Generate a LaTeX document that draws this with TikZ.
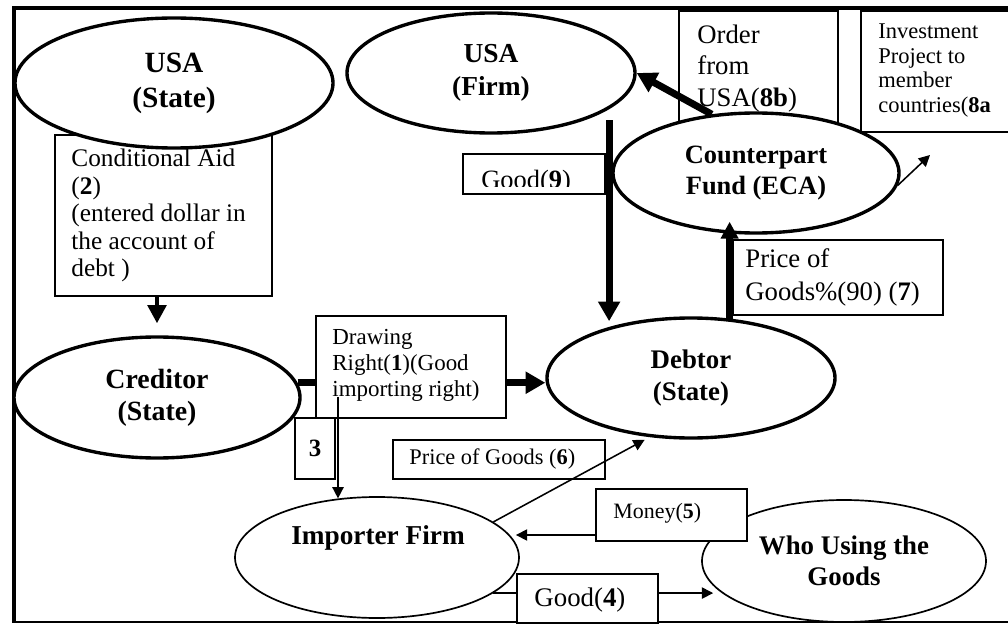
\documentclass[tikz,border=0pt]{standalone}
\usepackage{fontspec}
\setmainfont{Liberation Serif}
\usetikzlibrary{arrows.meta,shapes.geometric,calc}
\newcommand\PX[1]{#1*0.025cm}
\newcommand\setfs[2]{\fontsize{#1}{#2}\selectfont}
\begin{document}
\begin{tikzpicture}[x=0.025cm,y=-0.025cm,
  box/.style={draw, line width=1.2pt, fill=white, rectangle, inner sep=0pt},
  oval/.style={draw, ellipse, fill=white, inner sep=0pt, align=center},
  thickoval/.style={oval, line width=2.4pt},
  thinoval/.style={oval, line width=1.2pt},
  txt/.style={inner sep=0pt, align=left, anchor=west},
  bigarrow/.style={line width=5pt, -{Triangle[length=14pt,width=15pt]}},
  uparrow/.style={line width=5pt, -{Triangle[length=12pt,width=12pt]}},
  midarrow/.style={line width=3.5pt, -{Triangle[length=13pt,width=13pt]}},
  thinarrow/.style={line width=1.1pt, -{Triangle[length=8pt,width=8pt]}},
]
\useasboundingbox (0,0) rectangle (1008,624);
\fill[white] (0,0) rectangle (1008,624);

% frame
\draw[line width=2.8pt] (1012,8) -- (14,8) -- (14,623);
\draw[line width=1.4pt] (14,622) -- (1012,622);

% boxes behind the ellipses
\node[box, minimum width=\PX{217}, minimum height=\PX{161}] (cond) at (163.5,215.5) {};
\node[txt, font=\setfs{18}{19.5}] (condT) at ([xshift=\PX{17}]cond.west) {Conditional Aid\\(\textbf{2})\\(entered dollar in\\the account of\\debt )};

\node[box, minimum width=\PX{159}, minimum height=\PX{119}] (order) at (758.5,70.5) {};
\node[txt, font=\setfs{19}{22.5}] (orderT) at ([xshift=\PX{19},yshift=\PX{2}]order.west) {Order\\from\\USA(\textbf{8b})};

\node[box, minimum width=\PX{154}, minimum height=\PX{121}] (invest) at (938,71.5) {};
\node[txt, font=\setfs{16}{17.7}] (investT) at ([xshift=\PX{18},yshift=\PX{1}]invest.west) {Investment\\Project to\\member\\countries(\textbf{8a}};

% ellipses
\node[thickoval, minimum width=\PX{318}, minimum height=\PX{130}, font=\bfseries\setfs{20.9}{24.8}] (usaS) at (174,83) {USA\\(State)};
\node[thickoval, minimum width=\PX{286}, minimum height=\PX{121}, font=\bfseries\setfs{19.8}{22.7}] (creditor) at (157,397.5) {Creditor\\(State)};
\node[thinoval, minimum width=\PX{284}, minimum height=\PX{121}] (importer) at (377,557.5) {};
\node[inner sep=0pt, font=\bfseries\setfs{19.4}{22}] (importerT) at (378,538) {Importer Firm};
\node[thickoval, minimum width=\PX{288}, minimum height=\PX{120}, font=\bfseries\setfs{19.1}{22.7}] (debtor) at (691,378) {Debtor\\(State)};
\node[thinoval, minimum width=\PX{284}, minimum height=\PX{122}, font=\bfseries\setfs{19.1}{22}] (who) at (844,561) {Who Using the\\Goods};
\node[thickoval, minimum width=\PX{288}, minimum height=\PX{120}, font=\bfseries\setfs{19.5}{23.4}] (usaF) at (491,73) {USA\\(Firm)};
\node[thickoval, minimum width=\PX{286}, minimum height=\PX{120}, font=\bfseries\setfs{18.8}{22}] (counter) at (756,173) {Counterpart\\Fund (ECA)};

% creditor -> debtor (behind the drawing-right box)
\draw[bigarrow] (creditor.6.8) -- (creditor.6.8 -| debtor.west);
\node[box, minimum width=\PX{190}, minimum height=\PX{102}] (drawing) at (411,367) {};
\node[txt, font=\setfs{16.3}{18.6}] (drawingT) at ([xshift=\PX{17},yshift=\PX{1.5}]drawing.west) {Drawing\\Right(\textbf{1})(Good\\importing right)};
\node[box, minimum width=\PX{40}, minimum height=\PX{61}, font=\bfseries\setfs{17.7}{20}] (three) at (315,448.5) {3};
\coordinate (drawStart) at (338,397);
\draw[thinarrow] (drawStart) -- (drawStart |- importer.123.8);

% conditional aid -> creditor
\draw[midarrow, shorten >=8.5pt] (creditor.north |- cond.south) -- (creditor.north);

% good 9
\node[box, minimum width=\PX{142}, minimum height=\PX{40}] (good9) at (534,174) {};
\begin{scope}
\clip (463,150) rectangle (605,186);
\node[inner sep=0pt, anchor=base west, font=\setfs{18.8}{22}] (good9T) at (481,188) {Good(\textbf{9})};
\end{scope}
\draw[bigarrow, shorten <=7.8pt, shorten >=5pt] (usaF.-17.4) -- (usaF.-17.4 |- debtor.150.3);

% price 7
\node[box, minimum width=\PX{210}, minimum height=\PX{75}] (price7) at (838,277.5) {};
\node[txt, font=\setfs{19}{23.4}] (price7T) at ([xshift=\PX{13}]price7.west) {Price of\\Goods\%(90) (\textbf{7})};
\draw[uparrow] (debtor.57.5) -- ($(debtor.57.5 |- counter.south)+(0,-13)$);

% counterpart -> USA firm, -> investment
\draw[bigarrow] (counter.127) -- (usaF.east);
\coordinate (investEnd) at (930,155);
\draw[thinarrow] (counter.-5.7) -- (investEnd);

% price 6
\node[box, minimum width=\PX{212}, minimum height=\PX{39}] (price6) at (499,459.5) {};
\node[txt, font=\setfs{15.9}{18}] (price6T) at ([xshift=\PX{17}]price6.west) {Price of Goods (\textbf{6})};
\draw[thinarrow, shorten >=4pt] (importer.17.5) -- (debtor.-125.5);

% money 5
\node[box, minimum width=\PX{151}, minimum height=\PX{52}] (money) at (671.5,515) {};
\node[txt, font=\setfs{15.6}{18}] (moneyT) at ([xshift=\PX{18},yshift=\PX{2}]money.west) {Money(\textbf{5})};
\draw[thinarrow, shorten >=3.5pt] ([yshift=-\PX{20}]money.west) -- ([yshift=-\PX{20}]money.west -| importer.9.7);

% good 4
\draw[thinarrow] (importer.-17.2) -- ($(importer.-17.2 -| who.west)+(12,0)$);
\node[box, minimum width=\PX{141}, minimum height=\PX{49}] (good4) at (587.5,598.5) {};
\node[txt, font=\setfs{19.1}{22}] (good4T) at ([xshift=\PX{18},yshift=\PX{-1.5}]good4.west) {Good(\textbf{4})};
\end{tikzpicture}
\end{document}
